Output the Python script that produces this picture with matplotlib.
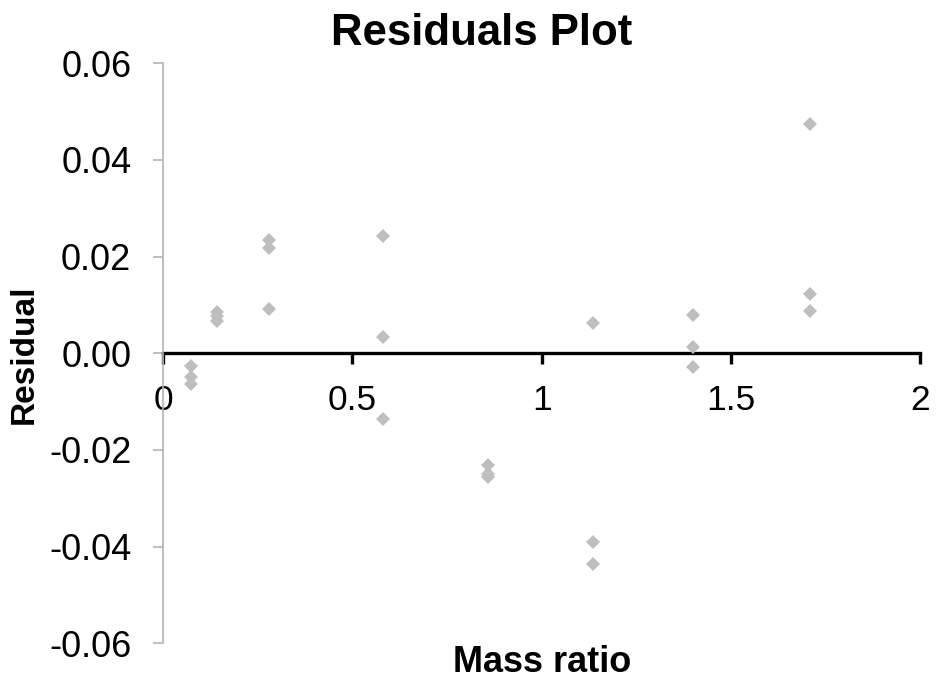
import matplotlib
matplotlib.use("Agg")
import matplotlib.pyplot as plt

plt.rcParams['font.family'] = ['Liberation Sans', 'DejaVu Sans']
plt.rcParams['axes.unicode_minus'] = False

# Data
mass_ratio = [0.0725, 0.0725, 0.0725,
              0.143, 0.143, 0.143,
              0.280, 0.280, 0.280,
              0.582, 0.582, 0.582,
              0.857, 0.857, 0.857,
              1.136, 1.136, 1.136,
              1.400, 1.400, 1.400,
              1.709, 1.709, 1.709]
residual = [-0.0027, -0.0050, -0.0063,
            0.0086, 0.0078, 0.0066,
            0.0234, 0.0217, 0.0091,
            0.0242, 0.0034, -0.0136,
            -0.0231, -0.0250, -0.0256,
            0.0062, -0.0391, -0.0436,
            0.0079, 0.0013, -0.0028,
            0.0475, 0.0122, 0.0088]

x_ticks = [0, 0.5, 1, 1.5, 2]
x_tick_labels = ["0", "0.5", "1", "1.5", "2"]
y_ticks = [-0.06, -0.04, -0.02, 0.00, 0.02, 0.04, 0.06]
y_tick_labels = ["-0.06", "-0.04", "-0.02", "0.00", "0.02", "0.04", "0.06"]

W, H = 936, 690
fig = plt.figure(figsize=(W / 100, H / 100), dpi=100)
ax = fig.add_axes([163.3 / W, 1 - 643.3 / H, (920 - 163.3) / W, (643.3 - 63.3) / H])

gray = '#BEBEBE'
ax.plot(mass_ratio, residual, linestyle='none', marker='D', markersize=7.2,
        color=gray, markeredgewidth=0, zorder=3)

ax.set_xlim(0, 2)
ax.set_ylim(-0.06, 0.06)

ax.spines['top'].set_visible(False)
ax.spines['right'].set_visible(False)
ax.spines['bottom'].set_position(('data', 0))
ax.spines['bottom'].set_color('black')
ax.spines['bottom'].set_linewidth(2.4)
ax.spines['bottom'].set_zorder(2)
ax.spines['left'].set_color('#B4B4B4')
ax.spines['left'].set_linewidth(1.2)

ax.set_xticks(x_ticks)
ax.set_xticklabels(x_tick_labels)
ax.set_yticks(y_ticks)
ax.set_yticklabels(y_tick_labels)

ax.tick_params(axis='x', direction='out', length=8, width=2.4, color='black',
               labelsize=25.5, pad=14, labelcolor='black')
ax.tick_params(axis='y', direction='out', length=7, width=1.2, color='#B4B4B4',
               labelsize=26, pad=16, labelcolor='black')

fig.text(481.5 / W, 1 - 45 / H, "Residuals Plot", ha='center', va='baseline',
         fontsize=31.5, fontweight='bold')
fig.text(542 / W, 1 - 672 / H, "Mass ratio", ha='center', va='baseline',
         fontsize=26, fontweight='bold')
fig.text(24 / W, 1 - 354 / H, "Residual", ha='center', va='center',
         rotation=90, fontsize=24, fontweight='bold')

fig.savefig("out.png", dpi=100)
